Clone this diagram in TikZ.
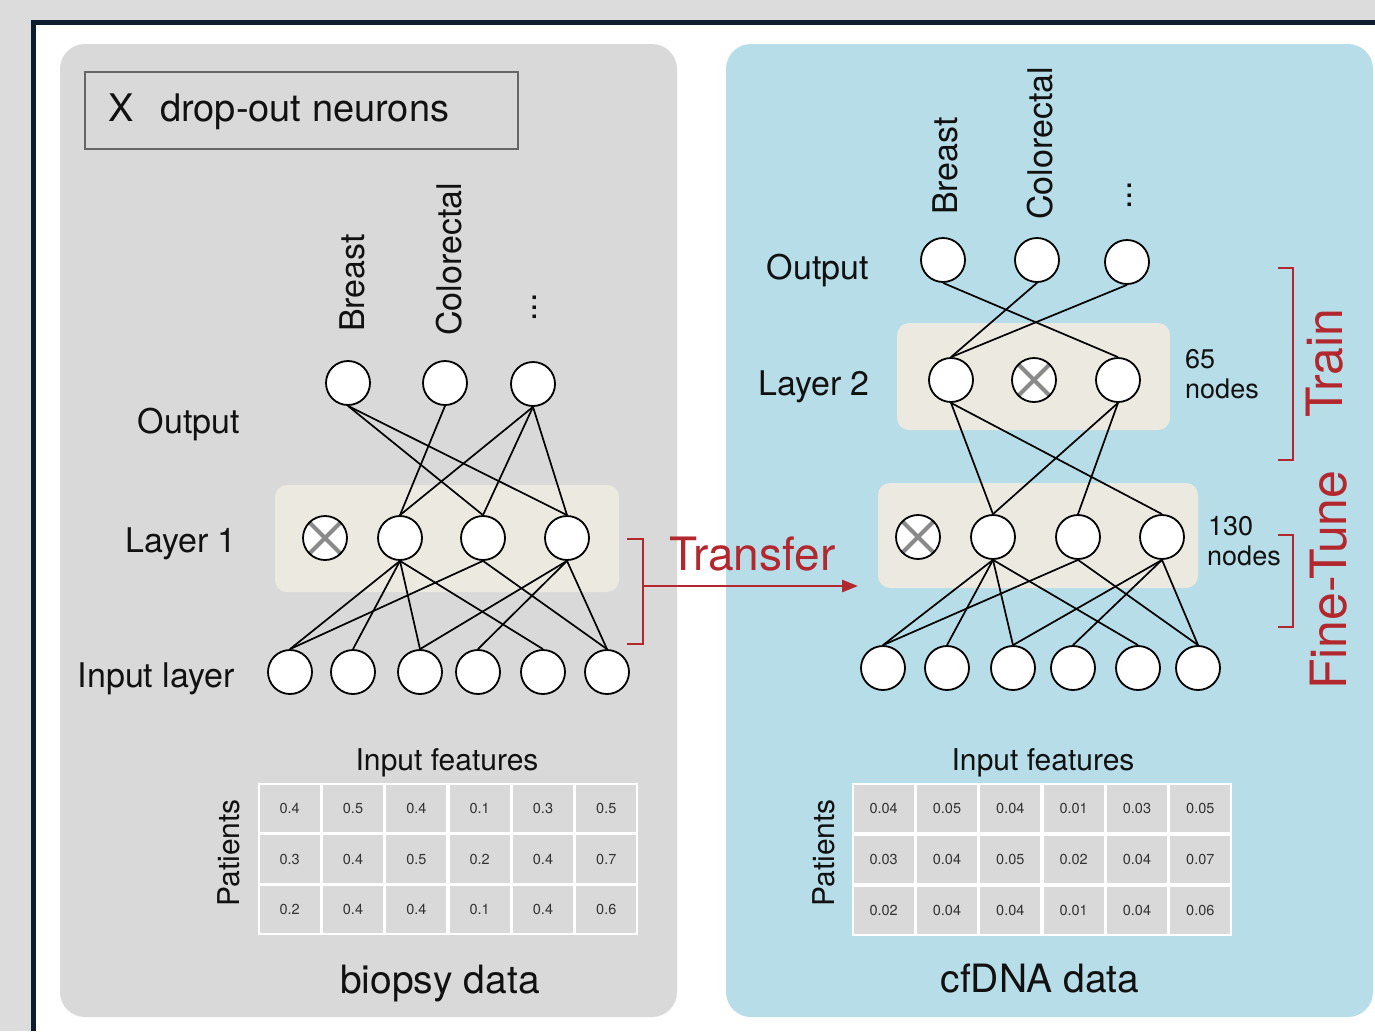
\documentclass[tikz,border=0pt]{standalone}
\usepackage{fontspec}
\setmainfont{TeX Gyre Heros}
\usetikzlibrary{arrows.meta}
\definecolor{bgout}{HTML}{DCDCDC}
\definecolor{framec}{HTML}{0E1E30}
\definecolor{panelgray}{HTML}{D9D9D9}
\definecolor{panelblue}{HTML}{B7DDE8}
\definecolor{layerbox}{HTML}{ECEAE0}
\definecolor{tred}{HTML}{B3282E}
\definecolor{cellgray}{HTML}{D9D9D9}
\definecolor{xgray}{HTML}{8A8A8A}
\definecolor{txt}{HTML}{111111}
\begin{document}
\begin{tikzpicture}[x=1pt,y=-1pt,
  neuron/.style={circle, draw=black, fill=white, line width=1.8pt, minimum size=44pt, inner sep=0pt},
  dropn/.style={neuron, path picture={
      \draw[xgray, line width=4pt] (path picture bounding box.south west) -- (path picture bounding box.north east)
                                   (path picture bounding box.north west) -- (path picture bounding box.south east);}},
  conn/.style={black, line width=1.7pt},
  lab/.style={inner sep=0pt, text=txt, font=\fontsize{34}{40}\selectfont},
  small/.style={inner sep=0pt, text=txt, font=\fontsize{27}{32}\selectfont},
  mid/.style={inner sep=0pt, text=txt, font=\fontsize{30}{36}\selectfont},
  big/.style={inner sep=0pt, text=txt, font=\fontsize{39}{46}\selectfont},
  redlab/.style={inner sep=0pt, text=tred, font=\fontsize{46}{52}\selectfont},
  redvlab/.style={inner sep=0pt, text=tred, font=\fontsize{50}{56}\selectfont},
  redline/.style={tred, line width=2.8pt},
  cell/.style={rectangle, fill=cellgray, minimum width=60pt, minimum height=47.5pt, inner sep=0pt,
      text={black!80}, font=\fontsize{14.5}{16}\selectfont},
  layerbg/.style={fill=layerbox, rounded corners=12pt},
  panel/.style={rounded corners=25pt}
]
\useasboundingbox (0,0) rectangle (1375,1031);
% background and frame
\fill[bgout] (0,0) rectangle (1375,1031);
\fill[white] (33,22) rectangle (1375,1031);
\draw[framec, line width=5pt] (33,1031) -- (33,22) -- (1375,22);
% panels
\fill[panelgray, panel] (60,44) rectangle (677,1017);
\fill[panelblue, panel] (726,44) rectangle (1373,1017);

% legend
\draw[black!60, line width=1.2pt] (85,72) rectangle (518,149);
\node[inner sep=0pt, text=txt, font=\fontsize{38}{44}\selectfont, anchor=base west] (legx) at (108,121) {X};
\node[inner sep=0pt, text=txt, font=\fontsize{38}{44}\selectfont, anchor=base west] (legt) at (160,121) {drop-out neurons};

% ---------------- left network
\fill[layerbg] (275,485) rectangle (619,592);
\node[neuron] (lo1) at (348,383) {};
\node[neuron] (lo2) at (445,383) {};
\node[neuron] (lo3) at (533,384) {};
\node[dropn]  (la1) at (325,538) {};
\node[neuron] (la2) at (400,538) {};
\node[neuron] (la3) at (483,538) {};
\node[neuron] (la4) at (567,538) {};
\node[neuron] (li1) at (290,672) {};
\node[neuron] (li2) at (353,672) {};
\node[neuron] (li3) at (420,672) {};
\node[neuron] (li4) at (478,672) {};
\node[neuron] (li5) at (543,672) {};
\node[neuron] (li6) at (607,672) {};
\foreach \a/\b in {lo1/la3, lo1/la4, lo2/la2, lo3/la2, lo3/la3, lo3/la4}
  \draw[conn] (\a.south) -- (\b.north);
\foreach \a/\b in {la2/li1, la2/li2, la2/li3, la2/li5, la3/li1, la3/li6, la4/li3, la4/li4, la4/li6}
  \draw[conn] (\a.south) -- (\b.north);

\node[lab, anchor=base east] (lout) at (240,433) {Output};
\node[lab, anchor=base east] (ll1) at (237,552) {Layer 1};
\node[lab, anchor=base east] (lin) at (235,687) {Input layer};
\node[lab, rotate=90, anchor=base west] (lbr) at (364,332) {Breast};
\node[lab, rotate=90, anchor=base west] (lco) at (461,336) {Colorectal};
\node[lab, rotate=90, anchor=base west] (ldo) at (536,322) {...};

% left table
\node[mid, anchor=base] (lif) at (447,770) {Input features};
\node[mid, rotate=90, anchor=base] (lpat) at (239,853) {Patients};
\fill[white] (258,783) rectangle (638,935);
\foreach \row [count=\r] in {{0.4,0.5,0.4,0.1,0.3,0.5},{0.3,0.4,0.5,0.2,0.4,0.7},{0.2,0.4,0.4,0.1,0.4,0.6}}{
  \foreach \v [count=\c] in \row {
    \node[cell] (lt\r\c) at ({258+(\c-0.5)*63.33},{783+(\r-0.5)*50.67}) {\v};
  }
}
\node[big, anchor=base] (lbio) at (440,993) {biopsy data};

% ---------------- right network
\fill[layerbg] (897,323) rectangle (1170,430);
\fill[layerbg] (878,483) rectangle (1198,588);
\node[neuron] (ro1) at (943,260) {};
\node[neuron] (ro2) at (1037,260) {};
\node[neuron] (ro3) at (1127,262) {};
\node[neuron] (rb1) at (951,380) {};
\node[dropn]  (rb2) at (1034,380) {};
\node[neuron] (rb3) at (1118,380) {};
\node[dropn]  (ra1) at (918,537) {};
\node[neuron] (ra2) at (993,537) {};
\node[neuron] (ra3) at (1078,537) {};
\node[neuron] (ra4) at (1162,537) {};
\node[neuron] (ri1) at (883,668) {};
\node[neuron] (ri2) at (947,668) {};
\node[neuron] (ri3) at (1013,668) {};
\node[neuron] (ri4) at (1073,668) {};
\node[neuron] (ri5) at (1138,668) {};
\node[neuron] (ri6) at (1198,668) {};
\foreach \a/\b in {ro1/rb3, ro2/rb1, ro3/rb1, rb1/ra2, rb1/ra4, rb3/ra2, rb3/ra3}
  \draw[conn] (\a.south) -- (\b.north);
\foreach \a/\b in {ra2/ri1, ra2/ri2, ra2/ri3, ra2/ri5, ra3/ri1, ra3/ri6, ra4/ri3, ra4/ri4, ra4/ri6}
  \draw[conn] (\a.south) -- (\b.north);

\node[lab, anchor=base east] (rout) at (869,279) {Output};
\node[lab, anchor=base east] (rl2) at (870,395) {Layer 2};
\node[lab, rotate=90, anchor=base west] (rbr) at (957,215) {Breast};
\node[lab, rotate=90, anchor=base west] (rco) at (1052,220) {Colorectal};
\node[lab, rotate=90, anchor=base west] (rdo) at (1131,210) {...};
\node[small, anchor=base west] (n65a) at (1185,368) {65};
\node[small, anchor=base west] (n65b) at (1185,398) {nodes};
\node[small, anchor=base west] (n130a) at (1208,535) {130};
\node[small, anchor=base west] (n130b) at (1207,565) {nodes};

% right table
\node[mid, anchor=base] (rif) at (1043,770) {Input features};
\node[mid, rotate=90, anchor=base] (rpat) at (834,853) {Patients};
\fill[white] (852,783) rectangle (1232,936);
\foreach \row [count=\r] in {{0.04,0.05,0.04,0.01,0.03,0.05},{0.03,0.04,0.05,0.02,0.04,0.07},{0.02,0.04,0.04,0.01,0.04,0.06}}{
  \foreach \v [count=\c] in \row {
    \node[cell] (rt\r\c) at ({852+(\c-0.5)*63.33},{783+(\r-0.5)*51}) {\v};
  }
}
\node[big, anchor=base] (rcf) at (1040,992) {cfDNA data};

% ---------------- transfer, train, fine-tune
\draw[redline] (627,539) -- (643,539) -- (643,644) -- (627,644);
\coordinate (tfrom) at (643,586);
\coordinate (tto) at (858,586);
\draw[redline, -{Triangle[length=16pt,width=12pt]}] (tfrom) -- (tto);
\node[redlab, anchor=base west] (ttxt) at (669,570) {Transfer};

\draw[redline] (1278,268) -- (1293,268) -- (1293,460) -- (1278,460);
\draw[redline] (1278,535) -- (1293,535) -- (1293,627) -- (1278,627);
\node[redvlab, rotate=90, anchor=base west] (train) at (1342,418) {Train};
\node[redvlab, rotate=90, anchor=base west] (fine) at (1346,690) {Fine-Tune};
\end{tikzpicture}
\end{document}
